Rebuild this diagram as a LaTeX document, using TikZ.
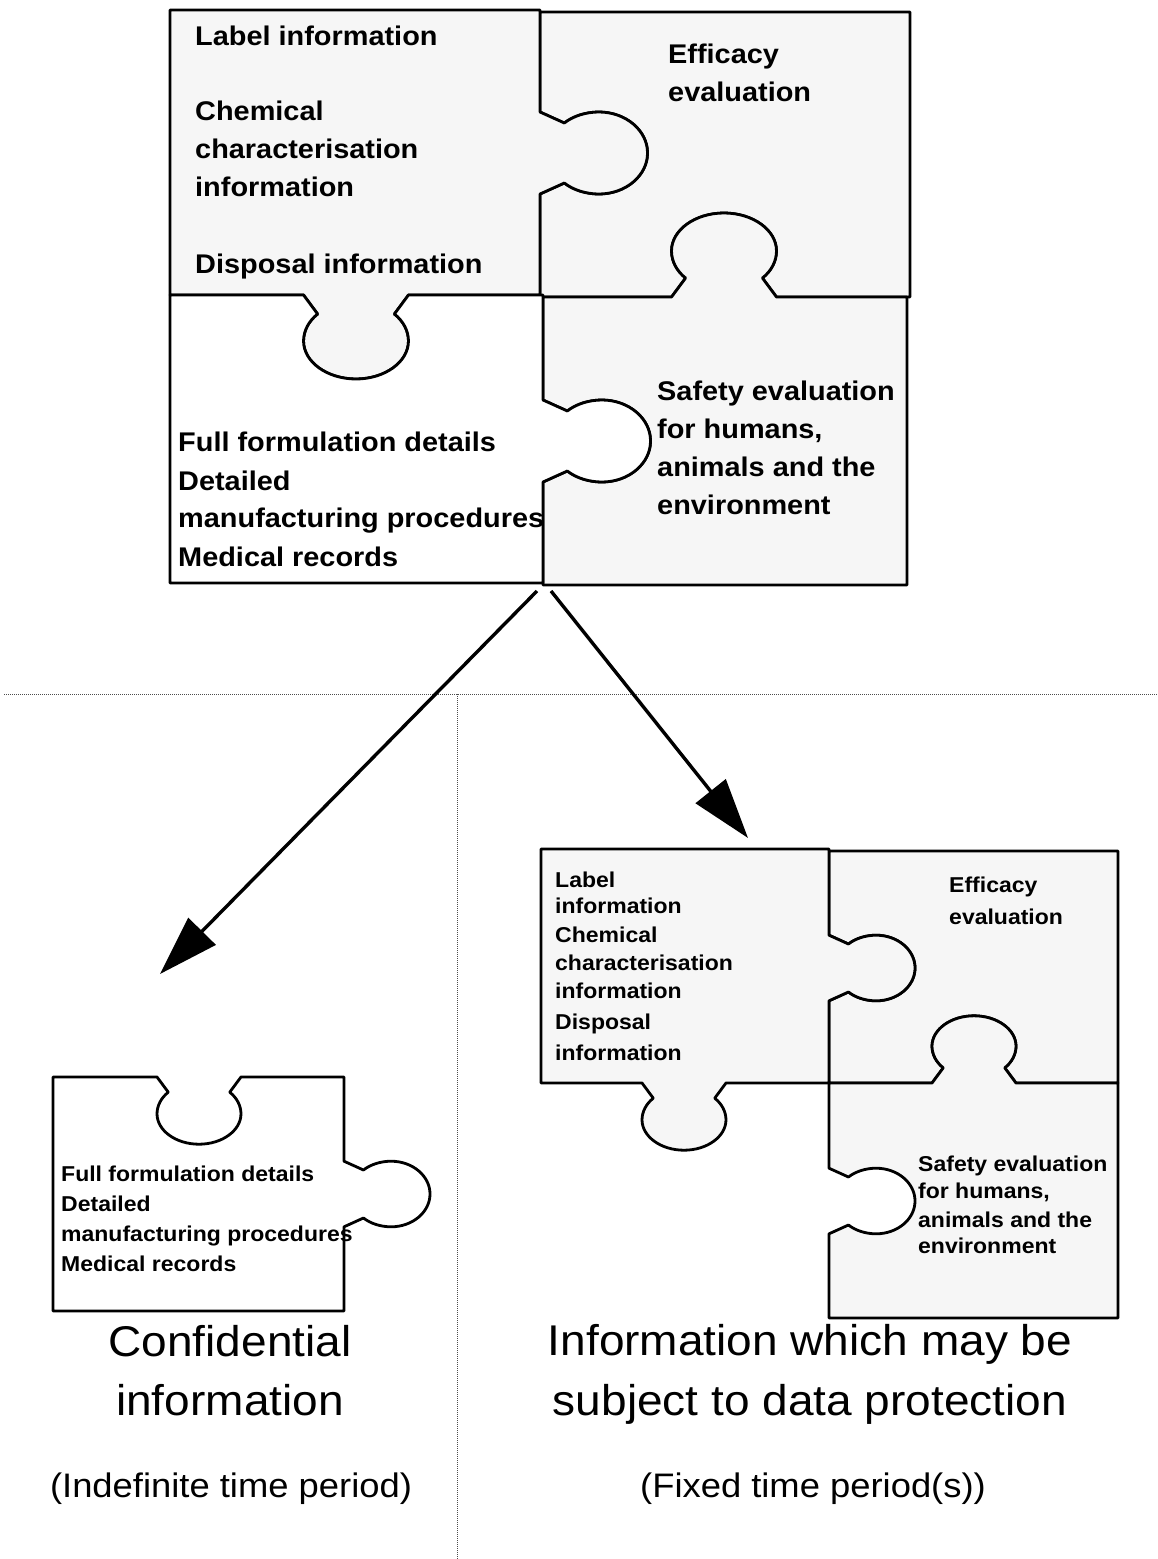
\documentclass[tikz,border=0pt]{standalone}
\usepackage{fontspec}
\setmainfont{Liberation Sans}[FakeStretch=1.07]
\usetikzlibrary{arrows.meta}
\definecolor{pz}{RGB}{246,246,246}

% horizontal stretch of the knob outline
\def\sx{1.28}
% point of a knob: base (#1,#2), along-edge vector (#3,#4), normal (#5,#6), local (#7,#8)
\newcommand\kp[8]{({#1+\sx*((#7)*(#3)+(#8)*(#5))},{#2+(#7)*(#4)+(#8)*(#6)})}
% one jigsaw knob inserted into an edge
\newcommand\knob[6]{%
 -- \kp{#1}{#2}{#3}{#4}{#5}{#6}{-41}{0}
 -- \kp{#1}{#2}{#3}{#4}{#5}{#6}{-30}{19}
 .. controls \kp{#1}{#2}{#3}{#4}{#5}{#6}{-37}{26} and \kp{#1}{#2}{#3}{#4}{#5}{#6}{-41}{36} .. \kp{#1}{#2}{#3}{#4}{#5}{#6}{-41}{46}
 .. controls \kp{#1}{#2}{#3}{#4}{#5}{#6}{-41}{67} and \kp{#1}{#2}{#3}{#4}{#5}{#6}{-22.5}{84} .. \kp{#1}{#2}{#3}{#4}{#5}{#6}{0}{84}
 .. controls \kp{#1}{#2}{#3}{#4}{#5}{#6}{22.5}{84} and \kp{#1}{#2}{#3}{#4}{#5}{#6}{41}{67} .. \kp{#1}{#2}{#3}{#4}{#5}{#6}{41}{46}
 .. controls \kp{#1}{#2}{#3}{#4}{#5}{#6}{41}{36} and \kp{#1}{#2}{#3}{#4}{#5}{#6}{37}{26} .. \kp{#1}{#2}{#3}{#4}{#5}{#6}{30}{19}
 -- \kp{#1}{#2}{#3}{#4}{#5}{#6}{41}{0}}

% top puzzle
\edef\pTL{(170,10) -- (540,10) \knob{540}{153}{0}{1}{1}{0} -- (540,295) \knob{356}{295}{-1}{0}{0}{1} -- (170,295) -- cycle}
\edef\pTR{(540,12) -- (910,12) -- (910,297) \knob{724}{297}{-1}{0}{0}{-1} -- (540,297) \knob{540}{153}{0}{-1}{1}{0} -- cycle}
\edef\pBL{(170,295) \knob{356}{295}{1}{0}{0}{1} -- (543,295) \knob{543}{441}{0}{1}{1}{0} -- (543,583) -- (170,583) -- cycle}
\edef\pBR{(543,297) \knob{724}{297}{1}{0}{0}{-1} -- (907,297) -- (907,585) -- (543,585) \knob{543}{441}{0}{-1}{1}{0} -- cycle}
% single confidential piece
\edef\pCF{(53,1077) \knob{199}{1077}{0.8}{0}{0}{0.8} -- (344,1077) \knob{344}{1194}{0}{0.8}{0.8}{0} -- (344,1311) -- (53,1311) -- cycle}
% three-piece group
\edef\pDL{(541,849) -- (829,849) \knob{829}{968}{0}{0.8}{0.8}{0} -- (829,1083) \knob{684}{1083}{-0.8}{0}{0}{0.8} -- (541,1083) -- cycle}
\edef\pDR{(829,851) -- (1118,851) -- (1118,1083) \knob{974}{1083}{-0.8}{0}{0}{-0.8} -- (829,1083) \knob{829}{968}{0}{-0.8}{0.8}{0} -- cycle}
\edef\pDB{(829,1083) \knob{974}{1083}{0.8}{0}{0}{-0.8} -- (1118,1083) -- (1118,1318) -- (829,1318) \knob{829}{1201}{0}{-0.8}{0.8}{0} -- cycle}

\tikzset{
  piece/.style={fill=pz, draw=black, line width=2.8pt, line join=round},
  blankpiece/.style={piece, fill=white},
  bigtxt/.style={inner sep=0pt, anchor=base west, font=\fontsize{27}{32}\selectfont\bfseries},
  smalltxt/.style={inner sep=0pt, anchor=base west, font=\fontsize{21.5}{26}\selectfont\bfseries},
  caption/.style={inner sep=0pt, anchor=base, font=\fontsize{43}{50}\selectfont},
  period/.style={inner sep=0pt, anchor=base, font=\fontsize{34}{40}\selectfont},
  flow/.style={line width=3.4pt, -{Triangle[length=60pt,width=38pt]}},
  divider/.style={line width=1pt, black!70, dash pattern=on 1pt off 1pt}
}

\begin{document}
\begin{tikzpicture}[x=1pt,y=-1pt]
\useasboundingbox (0,0) rectangle (1158,1559);

% dividing lines
\coordinate (hl) at (4,694);
\coordinate (hr) at (1158,694);
\coordinate (vt) at (457,694);
\coordinate (vb) at (457,1559);
\draw[divider] (hl) -- (hr);
\draw[divider] (vt) -- (vb);

% top puzzle
\filldraw[piece] \pTR;
\filldraw[piece] \pBR;
\filldraw[piece] \pTL;
\filldraw[blankpiece] \pBL;

\node[bigtxt] (tl1) at (195,45) {Label information};
\node[bigtxt] (tl2) at (195,120) {Chemical};
\node[bigtxt] (tl3) at (195,158) {characterisation};
\node[bigtxt] (tl4) at (195,196) {information};
\node[bigtxt] (tl5) at (195,273) {Disposal information};
\node[bigtxt] (tr1) at (668,63) {Efficacy};
\node[bigtxt] (tr2) at (668,101) {evaluation};
\node[bigtxt] (br1) at (657,400) {Safety evaluation};
\node[bigtxt] (br2) at (657,438) {for humans,};
\node[bigtxt] (br3) at (657,476) {animals and the};
\node[bigtxt] (br4) at (657,514) {environment};
\node[bigtxt] (bl1) at (178,451) {Full formulation details};
\node[bigtxt] (bl2) at (178,490) {Detailed};
\node[bigtxt] (bl3) at (178,527) {manufacturing procedures};
\node[bigtxt] (bl4) at (178,566) {Medical records};

% arrows
\coordinate (forkL) at (537,591);
\coordinate (forkR) at (551,591);
\coordinate (tipL) at (160,974);
\coordinate (tipR) at (748,838);
\draw[flow] (forkL) -- (tipL);
\draw[flow] (forkR) -- (tipR);

% confidential piece
\filldraw[blankpiece] \pCF;
\node[smalltxt] (cf1) at (61,1181) {Full formulation details};
\node[smalltxt] (cf2) at (61,1211) {Detailed};
\node[smalltxt] (cf3) at (61,1241) {manufacturing procedures};
\node[smalltxt] (cf4) at (61,1271) {Medical records};

% data protection pieces
\filldraw[piece] \pDR;
\filldraw[piece] \pDB;
\filldraw[piece] \pDL;
\node[smalltxt] (dl1) at (555,887) {Label};
\node[smalltxt] (dl2) at (555,913) {information};
\node[smalltxt] (dl3) at (555,942) {Chemical};
\node[smalltxt] (dl4) at (555,970) {characterisation};
\node[smalltxt] (dl5) at (555,998) {information};
\node[smalltxt] (dl6) at (555,1029) {Disposal};
\node[smalltxt] (dl7) at (555,1060) {information};
\node[smalltxt] (dr1) at (949,892) {Efficacy};
\node[smalltxt] (dr2) at (949,924) {evaluation};
\node[smalltxt] (db1) at (918,1171) {Safety evaluation};
\node[smalltxt] (db2) at (918,1198) {for humans,};
\node[smalltxt] (db3) at (918,1227) {animals and the};
\node[smalltxt] (db4) at (918,1253) {environment};

% captions
\node[caption] (c1) at (230,1356) {Confidential};
\node[caption] (c2) at (230,1415) {information};
\node[period] (c3) at (231,1497) {(Indefinite time period)};
\node[caption] (d1) at (810,1355) {Information which may be};
\node[caption] (d2) at (810,1415) {subject to data protection};
\node[period] (d3) at (813,1497) {(Fixed time period(s))};
\end{tikzpicture}
\end{document}
